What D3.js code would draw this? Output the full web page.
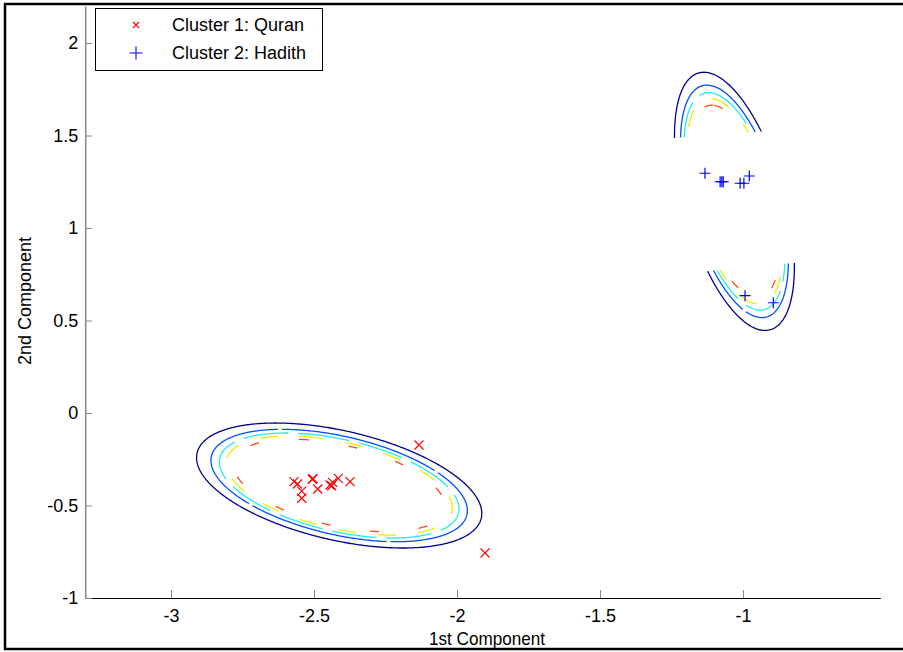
<!DOCTYPE html>
<html>
<head>
<meta charset="utf-8">
<script src="https://cdn.jsdelivr.net/npm/d3@7"></script>
<style>
  html, body { margin: 0; padding: 0; background: #fff; }
  svg { display: block; font-family: "Liberation Sans", Arial, sans-serif; }
</style>
</head>
<body>
<svg id="chart" width="903" height="652"></svg>
<script>
// ---------------- data ----------------
const xTicks = [-3, -2.5, -2, -1.5, -1];
const yTicks = [-1, -0.5, 0, 0.5, 1, 1.5, 2];
const xTickLabels = ["-3", "-2.5", "-2", "-1.5", "-1"];
const yTickLabels = ["-1", "-0.5", "0", "0.5", "1", "1.5", "2"];
const xDomain = [-3.3, -0.52];
const yDomain = [-1, 2.2];

// Cluster 1: Quran (1st, 2nd component)
const quranX = [-2.570, -2.558, -2.543, -2.543, -2.506, -2.503, -2.487, -2.444, -2.435, -2.438, -2.415, -2.374, -2.133, -1.902];
const quranY = [-0.371, -0.384, -0.422, -0.461, -0.358, -0.355, -0.411, -0.389, -0.375, -0.393, -0.353, -0.371, -0.173, -0.757];

// Cluster 2: Hadith
const hadithX = [-1.133, -1.080, -1.074, -1.069, -1.010, -0.997, -0.978, -0.993, -0.894];
const hadithY = [1.296, 1.250, 1.250, 1.250, 1.242, 1.242, 1.281, 0.634, 0.596];

// Fitted Gaussian mixture (two components)
const compWeight = [0.535, 0.465];
const compMeanX = [-2.412, -1.030];
const compMeanY = [-0.392, 1.144];
const compCovXX = [0.02811, 0.0049];
const compCovYY = [0.01290, 0.0544];
const compCovXY = [-0.00850, -0.00833];

// contour levels of the mixture density
const contourLevels = [0.06, 0.14, 0.22, 0.31, 0.44];

// band where the Hadith contours are not drawn in the source
const gapTopX = [-1.3, -0.7], gapTopY = [1.48, 1.55];
const gapBotX = [-1.3, -0.7], gapBotY = [0.74, 0.83];

const legendLabels = ["Cluster 1: Quran", "Cluster 2: Hadith"];

// ---------------- styles ----------------
const contourColors = ["#00008f", "#0050ff", "#20f0e8", "#eeee00", "#ff4a10"];
const contourDash = [null, "140,4", "45,10", "18,22", "9,40"];

// ---------------- drawing ----------------
const svg = d3.select("#chart");
const x = d3.scaleLinear().domain(xDomain).range([85.2, 880.3]);
const y = d3.scaleLinear().domain(yDomain).range([598, 6]);

// outer frame
svg.append("rect").attr("x", 5).attr("y", 4).attr("width", 920).attr("height", 645)
  .attr("fill", "none").attr("stroke", "#000").attr("stroke-width", 2.5);

// density grid
const step = 0.005;
const x0 = xDomain[0], y0 = yDomain[0];
const nx = Math.round((xDomain[1] - xDomain[0]) / step);
const ny = Math.round((yDomain[1] - yDomain[0]) / step);
const comps = compWeight.map((w, k) => {
  const a = compCovXX[k], b = compCovXY[k], c = compCovYY[k];
  const det = a * c - b * b;
  return { w, mx: compMeanX[k], my: compMeanY[k], ia: c / det, ib: -b / det, ic: a / det,
           norm: w / (2 * Math.PI * Math.sqrt(det)) };
});
const values = new Float64Array(nx * ny);
for (let j = 0; j < ny; j++) {
  const py = y0 + (j + 0.5) * step;
  for (let i = 0; i < nx; i++) {
    const px = x0 + (i + 0.5) * step;
    let s = 0;
    for (const cp of comps) {
      const u = px - cp.mx, v = py - cp.my;
      const q = cp.ia * u * u + 2 * cp.ib * u * v + cp.ic * v * v;
      s += cp.norm * Math.exp(-0.5 * q);
    }
    values[i + j * nx] = s;
  }
}
const contours = d3.contours().size([nx, ny]).thresholds(contourLevels)(values);
const proj = d3.geoTransform({
  point: function (gx, gy) { this.stream.point(x(x0 + gx * step), y(y0 + gy * step)); }
});
const geoPath = d3.geoPath(proj);

// clip path excluding the gap band
const defs = svg.append("defs");
const outerRect = `M0,0H903V652H0Z`;
const band = `M${x(gapTopX[0])},${y(gapTopY[0])}L${x(gapTopX[1])},${y(gapTopY[1])}` +
             `L${x(gapBotX[1])},${y(gapBotY[1])}L${x(gapBotX[0])},${y(gapBotY[0])}Z`;
defs.append("clipPath").attr("id", "gapclip")
  .append("path").attr("d", outerRect + band).attr("clip-rule", "evenodd");

svg.append("g").attr("clip-path", "url(#gapclip)")
  .selectAll("path").data(contours).join("path")
  .attr("d", geoPath)
  .attr("fill", "none")
  .attr("stroke", (d, i) => contourColors[i])
  .attr("stroke-width", 1.3)
  .attr("stroke-dasharray", (d, i) => contourDash[i]);

// axes
const xAxis = d3.axisBottom(x).tickValues(xTicks).tickFormat((d, i) => xTickLabels[i])
  .tickSizeInner(-8).tickSizeOuter(0).tickPadding(11);
const gx = svg.append("g").attr("transform", "translate(0,598)").call(xAxis);
gx.select(".domain").attr("stroke", "#000").attr("stroke-width", 1.2);
gx.selectAll(".tick line").attr("stroke", "#888");
gx.selectAll(".tick text").attr("font-size", 18).attr("fill", "#000").attr("font-family", "Liberation Sans, Arial, sans-serif");

const yAxis = d3.axisLeft(y).tickValues(yTicks).tickFormat((d, i) => yTickLabels[i])
  .tickSizeInner(-7).tickSizeOuter(0).tickPadding(7);
const gy = svg.append("g").attr("transform", "translate(85.2,0)").call(yAxis);
gy.select(".domain").attr("stroke", "#888").attr("stroke-width", 1.5);
gy.selectAll(".tick line").attr("stroke", "#888");
gy.selectAll(".tick text").attr("font-size", 18).attr("fill", "#000").attr("font-family", "Liberation Sans, Arial, sans-serif");

// axis labels
svg.append("text").attr("x", 487).attr("y", 645).attr("text-anchor", "middle")
  .attr("font-size", 19).attr("textLength", 116).attr("lengthAdjust", "spacingAndGlyphs")
  .text("1st Component");
svg.append("text").attr("transform", "translate(31,301) rotate(-90)").attr("text-anchor", "middle")
  .attr("font-size", 19).attr("textLength", 128).attr("lengthAdjust", "spacingAndGlyphs")
  .text("2nd Component");

// markers
const xMark = "M-4.5,-4.5L4.5,4.5M-4.5,4.5L4.5,-4.5";
const plusMark = "M-5.5,0H5.5M0,-5.5V5.5";
svg.append("g").selectAll("path").data(quranX).join("path")
  .attr("transform", (d, i) => `translate(${x(d)},${y(quranY[i])})`)
  .attr("d", xMark).attr("stroke", "#ff0000").attr("stroke-width", 1.2).attr("fill", "none");
svg.append("g").selectAll("path").data(hadithX).join("path")
  .attr("transform", (d, i) => `translate(${x(d)},${y(hadithY[i])})`)
  .attr("d", plusMark).attr("stroke", "#0000ff").attr("stroke-width", 1.2).attr("fill", "none");

// legend
const lg = svg.append("g");
lg.append("rect").attr("x", 95.5).attr("y", 8.5).attr("width", 227).attr("height", 62)
  .attr("fill", "#fff").attr("stroke", "#000").attr("stroke-width", 1);
lg.append("path").attr("transform", "translate(136,25)").attr("d", "M-3,-3L3,3M-3,3L3,-3")
  .attr("stroke", "#ff0000").attr("stroke-width", 1.1).attr("fill", "none");
lg.append("path").attr("transform", "translate(136,53)").attr("d", "M-6.5,0H6.5M0,-6.5V6.5")
  .attr("stroke", "#0000ff").attr("stroke-width", 1.1).attr("fill", "none");
lg.selectAll("text").data(legendLabels).join("text")
  .attr("x", 172).attr("y", (d, i) => 25 + i * 28).attr("dy", "0.35em")
  .attr("font-size", 18).text(d => d);
</script>
</body>
</html>
